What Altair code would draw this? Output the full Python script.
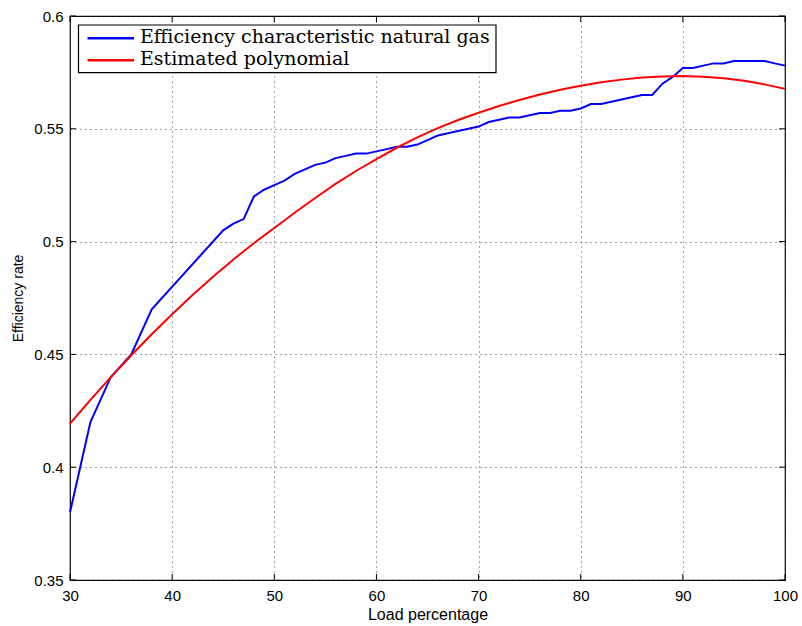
import altair as alt
import pandas as pd

# Blue: measured efficiency characteristic
blue_x = [30, 32, 34, 36, 38, 45, 46, 47, 48, 49, 50, 51, 52, 53, 54, 55, 56, 57, 58, 59,
          60, 61, 62, 63, 64, 65, 66, 67, 68, 69, 70, 71, 72, 73, 74, 75, 76, 77, 78, 79,
          80, 81, 82, 83, 84, 85, 86, 87, 88, 89, 90, 91, 92, 93, 94, 95, 96, 97, 98, 99, 100]
blue_y = [0.380, 0.420, 0.440, 0.450, 0.470, 0.505, 0.508, 0.510, 0.520, 0.523, 0.525, 0.527,
          0.530, 0.532, 0.534, 0.535, 0.537, 0.538, 0.539, 0.539,
          0.540, 0.541, 0.542, 0.542, 0.543, 0.545, 0.547, 0.548, 0.549, 0.550,
          0.551, 0.553, 0.554, 0.555, 0.555, 0.556, 0.557, 0.557, 0.558, 0.558,
          0.559, 0.561, 0.561, 0.562, 0.563, 0.564, 0.565, 0.565, 0.570, 0.573,
          0.577, 0.577, 0.578, 0.579, 0.579, 0.580, 0.580, 0.580, 0.580, 0.579, 0.578]

# Red: estimated polynomial
red_x = [30, 32, 34, 36, 38, 40, 42, 44, 46, 48, 50, 52, 54, 56, 58, 60, 62, 64, 66, 68,
         70, 72, 74, 76, 78, 80, 82, 84, 86, 88, 90, 92, 94, 96, 98, 100]
red_y = [0.4193, 0.4298, 0.4399, 0.4496, 0.4589, 0.4678, 0.4763, 0.4844, 0.4921, 0.4993,
         0.5060, 0.5128, 0.5193, 0.5256, 0.5313, 0.5366, 0.5416, 0.5462, 0.5503, 0.5539,
         0.5571, 0.5601, 0.5628, 0.5652, 0.5673, 0.5691, 0.5706, 0.5718, 0.5727, 0.5732,
         0.5734, 0.5731, 0.5724, 0.5713, 0.5697, 0.5677]

series_names = ["Efficiency characteristic natural gas", "Estimated polynomial"]
series_colors = ["#0000ff", "#ff0000"]

x_ticks = [30, 40, 50, 60, 70, 80, 90, 100]
y_ticks = [0.35, 0.4, 0.45, 0.5, 0.55, 0.6]

assert len(blue_x) == len(blue_y)
assert len(red_x) == len(red_y)

W, H = 715, 564

blue_df = pd.DataFrame({"x": blue_x, "y": blue_y, "series": series_names[0]})
red_df = pd.DataFrame({"x": red_x, "y": red_y, "series": series_names[1]})

xscale = alt.Scale(domain=[30, 100], nice=False, zero=False)
yscale = alt.Scale(domain=[0.35, 0.6], nice=False, zero=False)

label_expr = "format(datum.value, '.2~f')"

x_axis = alt.Axis(values=x_ticks, title="Load percentage", grid=True, gridDash=[1, 4],
                  gridColor="#333333", gridOpacity=0.9, tickSize=0, domain=False,
                  labelFont="Liberation Sans", labelFontSize=15, labelColor="black",
                  labelPadding=8, titleFont="Liberation Sans", titleFontSize=16,
                  titleFontWeight="normal", titleColor="black", titlePadding=3,
                  labelFlush=False)
y_axis = alt.Axis(values=y_ticks, title="Efficiency rate", grid=True, gridDash=[1, 4],
                  gridColor="#333333", gridOpacity=0.9, tickSize=0, domain=False,
                  labelExpr=label_expr,
                  labelFont="Liberation Sans", labelFontSize=15, labelColor="black",
                  labelPadding=7, titleFont="Liberation Sans", titleFontSize=14,
                  titleFontWeight="normal", titleColor="black", titlePadding=8,
                  labelFlush=False)

color = alt.Color("series:N",
                  scale=alt.Scale(domain=series_names, range=series_colors),
                  legend=None)

blue = alt.Chart(blue_df).mark_line(strokeWidth=2).encode(
    x=alt.X("x:Q", scale=xscale, axis=x_axis),
    y=alt.Y("y:Q", scale=yscale, axis=y_axis),
    color=color,
)
red = alt.Chart(red_df).mark_line(strokeWidth=2).encode(
    x=alt.X("x:Q", scale=xscale),
    y=alt.Y("y:Q", scale=yscale),
    color=color,
)

xt_df = pd.DataFrame({"x": x_ticks})
yt_df = pd.DataFrame({"y": y_ticks})

xt_bottom = alt.Chart(xt_df).mark_rule(color="black", strokeWidth=1).encode(
    x=alt.X("x:Q", scale=xscale), y=alt.value(H), y2=alt.value(H - 6))
xt_top = alt.Chart(xt_df).mark_rule(color="black", strokeWidth=1).encode(
    x=alt.X("x:Q", scale=xscale), y=alt.value(0), y2=alt.value(6))
yt_left = alt.Chart(yt_df).mark_rule(color="black", strokeWidth=1).encode(
    y=alt.Y("y:Q", scale=yscale), x=alt.value(0), x2=alt.value(6))
yt_right = alt.Chart(yt_df).mark_rule(color="black", strokeWidth=1).encode(
    y=alt.Y("y:Q", scale=yscale), x=alt.value(W), x2=alt.value(W - 6))

# Legend box (MATLAB style, inside the plot at top left)
leg_df = pd.DataFrame({"series": series_names})
leg_box = alt.Chart(leg_df.head(1)).mark_rect(
    fill="white", stroke="black", strokeWidth=1.2).encode(
    x=alt.value(8.5), x2=alt.value(426), y=alt.value(9), y2=alt.value(56.7))

leg_items = []
sym_y = [22.3, 44.3]
txt_y = [26.7, 49.0]
for i, name in enumerate(series_names):
    row = leg_df[leg_df["series"] == name]
    leg_items.append(alt.Chart(row).mark_rule(strokeWidth=2.5).encode(
        x=alt.value(17.5), x2=alt.value(64), y=alt.value(sym_y[i]),
        color=color))
    leg_items.append(alt.Chart(row).mark_text(
        align="left", baseline="alphabetic", font="DejaVu Serif",
        fontSize=19, color="black").encode(
        x=alt.value(70), y=alt.value(txt_y[i]), text="series:N"))

chart = alt.layer(xt_bottom, xt_top, yt_left, yt_right, blue, red, leg_box, *leg_items).properties(
    width=W, height=H,
    autosize=alt.AutoSizeParams(type="none"),
    padding={"left": 70, "top": 16, "right": 17, "bottom": 46},
    background="white",
).configure_view(stroke="black", strokeWidth=1.2)

chart.save("out.html", embed_options={"renderer": "svg", "actions": False})
